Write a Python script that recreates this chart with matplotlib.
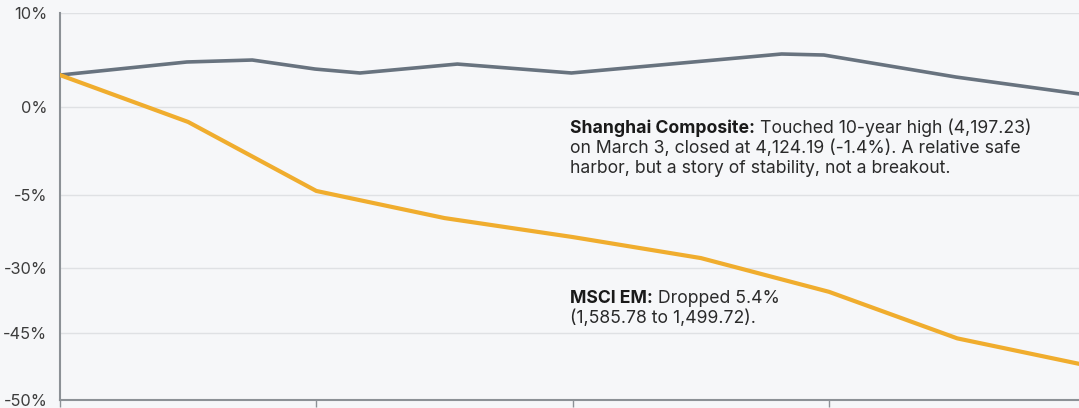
import matplotlib
matplotlib.use('Agg')

import matplotlib.pyplot as plt
import numpy as np

# y axis is not linear in the source: tick values and where they sit
tick_vals = [-50, -45, -30, -5, 0, 10]
tick_pos = [0, 67, 132, 205, 293, 387]

# Shanghai Composite (grey) and MSCI EM (orange), percent
sh_x = [0, 0.99, 1.5, 1.99, 2.34, 3.1, 3.99, 5.63, 5.96, 6.99, 8]
sh_y = [3.4, 4.79, 5.0, 4.04, 3.62, 4.57, 3.62, 5.64, 5.53, 3.19, 1.3]

em_x = [0, 1, 2, 3, 4, 5, 6, 7, 8]
em_y = [3.4, -0.85, -4.77, -12.9, -19.4, -26.6, -35.5, -45.4, -47.4]

x_ticks = [0, 2, 4, 6]


def fwd(v):
    return np.interp(v, tick_vals, tick_pos)


def inv(p):
    return np.interp(p, tick_pos, tick_vals)


plt.rcParams['font.family'] = ['Inter', 'DejaVu Sans']
bg = '#f6f7f9'

fig = plt.figure(figsize=(10.79, 4.08), dpi=100, facecolor=bg)
ax = fig.add_axes([0.0556, 0.0196, 0.9444, 0.9485])
ax.set_facecolor(bg)
ax.set_yscale('function', functions=(fwd, inv))

ax.plot(sh_x, sh_y, color='#68737f', lw=2.6, solid_joinstyle='round', zorder=3)
ax.plot(em_x, em_y, color='#f0ad2e', lw=3.0, solid_joinstyle='round', zorder=3)

ax.set_ylim(-50, 10)
ax.set_xlim(0, 7.95)
ax.set_yticks(tick_vals)
ax.set_yticklabels(['%d%%' % v for v in tick_vals])
ax.set_xticks(x_ticks)
ax.set_xticklabels([])
ax.grid(axis='y', color='#dfe1e4', lw=1)
ax.set_axisbelow(True)

for s in ['top', 'right']:
    ax.spines[s].set_visible(False)
for s in ['left', 'bottom']:
    ax.spines[s].set_color('#8c9196')
    ax.spines[s].set_linewidth(1.5)
ax.tick_params(axis='y', length=0, pad=9, labelsize=11.8, labelcolor='#3c3c3c')
ax.tick_params(axis='x', length=5, color='#8c9196', width=1)

fs = 12.7


def note(x, y, bold, rest):
    t = ax.text(x, y, bold, fontsize=fs, fontweight='bold', color='#1a1a1a',
                va='baseline', ha='left')
    ax.annotate(rest, xy=(1, 0), xycoords=t, va='bottom', ha='left',
                fontsize=fs, color='#2a2a2a')


def line(x, y, s):
    ax.text(x, y, s, fontsize=fs, color='#2a2a2a', va='baseline', ha='left')


note(3.98, -1.48, 'Shanghai Composite:', ' Touched 10-year high (4,197.23)')
line(3.98, -2.61, 'on March 3, closed at 4,124.19 (-1.4%). A relative safe')
line(3.98, -3.75, 'harbor, but a story of stability, not a breakout.')

note(3.98, -38.1, 'MSCI EM:', ' Dropped 5.4%')
line(3.98, -42.7, '(1,585.78 to 1,499.72).')

fig.savefig('out.png', dpi=100, facecolor=bg)
